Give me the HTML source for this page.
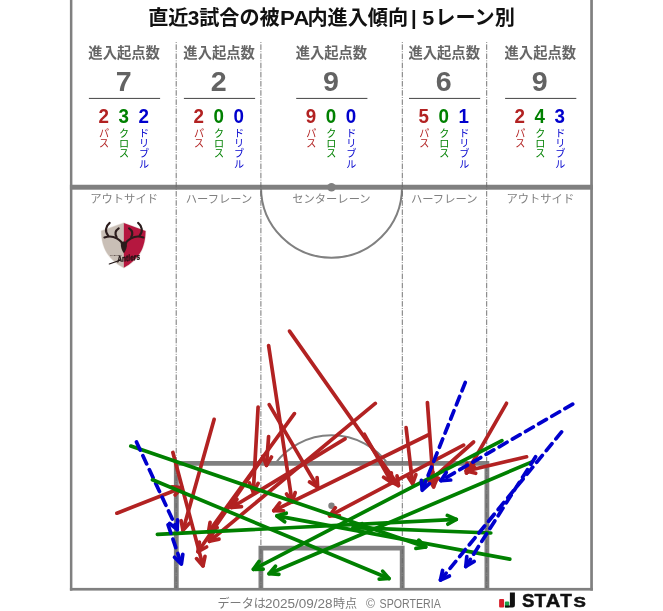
<!DOCTYPE html>
<html lang="ja"><head><meta charset="utf-8"><title>直近3試合の被PA内進入傾向 | 5レーン別</title>
<style>
html,body{margin:0;padding:0;background:#fff}
body{width:663px;height:611px;overflow:hidden;font-family:"Liberation Sans", "Noto Sans CJK JP", sans-serif}
svg{display:block}
text{font-family:"Liberation Sans", "Noto Sans CJK JP", sans-serif}
.title{font-size:20.15px;font-weight:700;fill:#111;text-anchor:middle}
.hd{font-size:14.3px;font-weight:700;fill:#666;text-anchor:middle}
.tot{font-size:27px;font-weight:700;fill:#636363;text-anchor:middle}
.num{font-size:17.9px;font-weight:700;text-anchor:middle}
.vl{font-size:10.1px;text-anchor:middle}
.lane{font-size:11.3px;fill:#808080;text-anchor:middle}
.foot{font-size:12.1px;fill:#7a7a7a}
.stats{font-size:19px;font-weight:700;fill:#111}
</style></head><body>
<svg width="663" height="611" viewBox="0 0 663 611">
<rect width="663" height="611" fill="#fff"/>
<!-- pitch -->
<g fill="#808080">
<rect x="69.9" y="0" width="2.5" height="590.6"/>
<rect x="590.2" y="0" width="2.7" height="590.6"/>
<rect x="69.9" y="587.9" width="523" height="2.7"/>
<rect x="69.9" y="184.75" width="523" height="4.95"/>
<circle cx="331.5" cy="187.2" r="4.3"/>
<circle cx="331.5" cy="505.8" r="3.2"/>
</g>
<g fill="none" stroke="#808080">
<path d="M176.3 590V463.4H486.9V590" stroke-width="4.8"/>
<path d="M260.9 590V548.2H402.2V590" stroke-width="4.8"/>
<path d="M261 187.2A70.5 70.5 0 0 0 402 187.2" stroke-width="2"/>
<path d="M275.2 463.5A70.4 70.4 0 0 1 387.8 463.5" stroke-width="2"/>
</g>
<g stroke="#666" stroke-width="0.9" stroke-dasharray="5.54 1.38 0.87 1.38" stroke-dashoffset="6.92" fill="none">
<path d="M176.2 42.1V588"/><path d="M260.9 42.1V588"/><path d="M402.3 42.1V588"/><path d="M486.7 42.1V588"/>
</g>
<text y="25.3" class="title" style="text-anchor:start"><tspan x="148.2">直近</tspan><tspan x="187.8" textLength="11.6" lengthAdjust="spacingAndGlyphs">3</tspan><tspan x="199.2">試合の被</tspan><tspan x="280.1" textLength="29.3" lengthAdjust="spacingAndGlyphs">PA</tspan><tspan x="307.4">内進入傾向</tspan><tspan x="406"> </tspan><tspan x="411.1">|</tspan><tspan x="417.5"> </tspan><tspan x="422.2" textLength="12" lengthAdjust="spacingAndGlyphs">5</tspan><tspan x="435.3">レーン別</tspan></text>
<text x="124.1" y="57.6" class="hd">進入起点数</text>
<text transform="translate(123.6 90.8) scale(1.06 1.02)" class="tot">7</text>
<rect x="88.9" y="97.9" width="71.2" height="1.1" fill="#555"/>
<text transform="translate(103.6 122.9) scale(1.05 1.08)" class="num" fill="#b22222">2</text>
<text class="vl" fill="#b22222"><tspan x="104.1" y="136.90">パ</tspan><tspan x="104.1" y="147.10">ス</tspan></text>
<text transform="translate(123.6 122.9) scale(1.05 1.08)" class="num" fill="#008000">3</text>
<text class="vl" fill="#008000"><tspan x="124.1" y="136.90">ク</tspan><tspan x="124.1" y="147.10">ロ</tspan><tspan x="124.1" y="157.30">ス</tspan></text>
<text transform="translate(143.6 122.9) scale(1.05 1.08)" class="num" fill="#0000cd">2</text>
<text class="vl" fill="#0000cd"><tspan x="144.1" y="136.90">ド</tspan><tspan x="144.1" y="147.10">リ</tspan><tspan x="144.1" y="157.30">ブ</tspan><tspan x="144.1" y="167.50">ル</tspan></text>
<text x="124.1" y="202.6" class="lane">アウトサイド</text>
<text x="219.1" y="57.6" class="hd">進入起点数</text>
<text transform="translate(218.6 90.8) scale(1.06 1.02)" class="tot">2</text>
<rect x="183.9" y="97.9" width="71.2" height="1.1" fill="#555"/>
<text transform="translate(198.6 122.9) scale(1.05 1.08)" class="num" fill="#b22222">2</text>
<text class="vl" fill="#b22222"><tspan x="199.1" y="136.90">パ</tspan><tspan x="199.1" y="147.10">ス</tspan></text>
<text transform="translate(218.6 122.9) scale(1.05 1.08)" class="num" fill="#008000">0</text>
<text class="vl" fill="#008000"><tspan x="219.1" y="136.90">ク</tspan><tspan x="219.1" y="147.10">ロ</tspan><tspan x="219.1" y="157.30">ス</tspan></text>
<text transform="translate(238.6 122.9) scale(1.05 1.08)" class="num" fill="#0000cd">0</text>
<text class="vl" fill="#0000cd"><tspan x="239.1" y="136.90">ド</tspan><tspan x="239.1" y="147.10">リ</tspan><tspan x="239.1" y="157.30">ブ</tspan><tspan x="239.1" y="167.50">ル</tspan></text>
<text x="219.1" y="202.6" class="lane">ハーフレーン</text>
<text x="331.4" y="57.6" class="hd">進入起点数</text>
<text transform="translate(330.9 90.8) scale(1.06 1.02)" class="tot">9</text>
<rect x="296.2" y="97.9" width="71.2" height="1.1" fill="#555"/>
<text transform="translate(310.9 122.9) scale(1.05 1.08)" class="num" fill="#b22222">9</text>
<text class="vl" fill="#b22222"><tspan x="311.4" y="136.90">パ</tspan><tspan x="311.4" y="147.10">ス</tspan></text>
<text transform="translate(330.9 122.9) scale(1.05 1.08)" class="num" fill="#008000">0</text>
<text class="vl" fill="#008000"><tspan x="331.4" y="136.90">ク</tspan><tspan x="331.4" y="147.10">ロ</tspan><tspan x="331.4" y="157.30">ス</tspan></text>
<text transform="translate(350.9 122.9) scale(1.05 1.08)" class="num" fill="#0000cd">0</text>
<text class="vl" fill="#0000cd"><tspan x="351.4" y="136.90">ド</tspan><tspan x="351.4" y="147.10">リ</tspan><tspan x="351.4" y="157.30">ブ</tspan><tspan x="351.4" y="167.50">ル</tspan></text>
<text x="331.4" y="202.6" class="lane">センターレーン</text>
<text x="444.2" y="57.6" class="hd">進入起点数</text>
<text transform="translate(443.7 90.8) scale(1.06 1.02)" class="tot">6</text>
<rect x="409.0" y="97.9" width="71.2" height="1.1" fill="#555"/>
<text transform="translate(423.7 122.9) scale(1.05 1.08)" class="num" fill="#b22222">5</text>
<text class="vl" fill="#b22222"><tspan x="424.2" y="136.90">パ</tspan><tspan x="424.2" y="147.10">ス</tspan></text>
<text transform="translate(443.7 122.9) scale(1.05 1.08)" class="num" fill="#008000">0</text>
<text class="vl" fill="#008000"><tspan x="444.2" y="136.90">ク</tspan><tspan x="444.2" y="147.10">ロ</tspan><tspan x="444.2" y="157.30">ス</tspan></text>
<text transform="translate(463.7 122.9) scale(1.05 1.08)" class="num" fill="#0000cd">1</text>
<text class="vl" fill="#0000cd"><tspan x="464.2" y="136.90">ド</tspan><tspan x="464.2" y="147.10">リ</tspan><tspan x="464.2" y="157.30">ブ</tspan><tspan x="464.2" y="167.50">ル</tspan></text>
<text x="444.2" y="202.6" class="lane">ハーフレーン</text>
<text x="540.3" y="57.6" class="hd">進入起点数</text>
<text transform="translate(539.8 90.8) scale(1.06 1.02)" class="tot">9</text>
<rect x="505.1" y="97.9" width="71.2" height="1.1" fill="#555"/>
<text transform="translate(519.8 122.9) scale(1.05 1.08)" class="num" fill="#b22222">2</text>
<text class="vl" fill="#b22222"><tspan x="520.3" y="136.90">パ</tspan><tspan x="520.3" y="147.10">ス</tspan></text>
<text transform="translate(539.8 122.9) scale(1.05 1.08)" class="num" fill="#008000">4</text>
<text class="vl" fill="#008000"><tspan x="540.3" y="136.90">ク</tspan><tspan x="540.3" y="147.10">ロ</tspan><tspan x="540.3" y="157.30">ス</tspan></text>
<text transform="translate(559.8 122.9) scale(1.05 1.08)" class="num" fill="#0000cd">3</text>
<text class="vl" fill="#0000cd"><tspan x="560.3" y="136.90">ド</tspan><tspan x="560.3" y="147.10">リ</tspan><tspan x="560.3" y="157.30">ブ</tspan><tspan x="560.3" y="167.50">ル</tspan></text>
<text x="540.3" y="202.6" class="lane">アウトサイド</text>
<!-- logo placeholder -->
<g id="emblem">
<path d="M123.8 222.3L100.7 230.5C101 246.3 106 259 123.8 268.5C141.6 259 146 246.3 146.3 230.5Z" fill="#ebe6e1"/>
<path d="M123.8 222.9L101.3 230.9C101.6 246 106.5 258.5 123.8 267.8Z" fill="#c9bfb6"/>
<path d="M123.8 222.9L145.6 230.9C145.3 246 140.5 258.5 123.8 267.8Z" fill="#b5173f"/>
<g fill="none" stroke="#2b1c1c" stroke-linecap="round" stroke-linejoin="round" stroke-width="2.1">
<path d="M122.6 243.4C119.5 239.5 114 234.2 104.4 237.4"/>
<path d="M108.2 235.6C104.6 231.5 105.6 226.2 109.7 222.9"/>
<path d="M116.6 237.0C114.6 233.6 115.6 230.4 118.7 228.3"/>
<path d="M125.2 243.4C128.3 239.5 133.8 234.2 143.4 237.4"/>
<path d="M139.6 235.6C143.2 231.5 142.2 226.2 138.1 222.9"/>
<path d="M131.2 237.0C133.2 233.6 132.2 230.4 129.1 228.3"/>
</g>
<path d="M120.9 243.2C122.2 241 125.6 241 126.9 243.2C127.4 247 125.8 251 123.9 253.2C122 251 120.4 247 120.9 243.2Z" fill="#2b1c1c"/>
<text x="110.3" y="255.6" style="font-size:2.2px;font-weight:700;fill:#2b1c1c;letter-spacing:0.2px">KASHIMA</text>
<text x="117.5" y="262.3" transform="rotate(-7 117.5 262.3)" style="font-size:8.8px;font-weight:700;font-style:italic;fill:#1d1212;stroke:#1d1212;stroke-width:0.3px" textLength="23" lengthAdjust="spacingAndGlyphs">Antlers</text>
<path d="M109.3 264L120 260.2" stroke="#1d1212" stroke-width="1.2" stroke-linecap="round"/>
</g>
<g fill="none" stroke-width="3.7" stroke-linecap="round" stroke-linejoin="round">
<path d="M116.9 513.2L181.7 487.7" stroke="#b22222"/><path d="M171.9 486.8L181.7 487.7L175.1 495.0" stroke="#b22222"/>
<path d="M172.9 452.5L203.0 565.9" stroke="#b22222"/><path d="M205.0 556.3L203.0 565.9L196.5 558.6" stroke="#b22222"/>
<path d="M214.1 419.4L183.0 530.3" stroke="#b22222"/><path d="M189.6 523.1L183.0 530.3L181.1 520.7" stroke="#b22222"/>
<path d="M258.1 407.0L253.3 491.9" stroke="#b22222"/><path d="M258.1 483.4L253.3 491.9L249.4 482.9" stroke="#b22222"/>
<path d="M268.6 345.5L292.1 501.9" stroke="#b22222"/><path d="M295.2 492.6L292.1 501.9L286.5 493.9" stroke="#b22222"/>
<path d="M289.5 331.1L398.5 485.6" stroke="#b22222"/><path d="M397.0 475.9L398.5 485.6L389.8 481.0" stroke="#b22222"/>
<path d="M269.2 404.6L317.7 487.3" stroke="#b22222"/><path d="M317.1 477.5L317.7 487.3L309.5 481.9" stroke="#b22222"/>
<path d="M294.4 413.6L208.5 532.1" stroke="#b22222"/><path d="M217.2 527.6L208.5 532.1L210.1 522.4" stroke="#b22222"/>
<path d="M263.1 457.2L198.0 551.7" stroke="#b22222"/><path d="M206.6 547.0L198.0 551.7L199.4 542.0" stroke="#b22222"/>
<path d="M268.6 436.6L266.5 465.4" stroke="#b22222"/><path d="M271.5 457.0L266.5 465.4L262.7 456.3" stroke="#b22222"/>
<path d="M375.3 403.4L209.4 541.3" stroke="#b22222"/><path d="M219.0 539.1L209.4 541.3L213.4 532.3" stroke="#b22222"/>
<path d="M364.4 434.3L391.8 482.6" stroke="#b22222"/><path d="M391.3 472.9L391.8 482.6L383.6 477.2" stroke="#b22222"/>
<path d="M345.0 438.8L231.7 507.5" stroke="#b22222"/><path d="M241.5 506.7L231.7 507.5L237.0 499.2" stroke="#b22222"/>
<path d="M427.4 402.5L433.6 486.8" stroke="#b22222"/><path d="M437.4 477.7L433.6 486.8L428.6 478.4" stroke="#b22222"/>
<path d="M406.1 427.6L412.6 483.8" stroke="#b22222"/><path d="M415.9 474.6L412.6 483.8L407.2 475.6" stroke="#b22222"/>
<path d="M428.1 435.0L273.8 510.7" stroke="#b22222"/><path d="M283.6 510.8L273.8 510.7L279.7 502.9" stroke="#b22222"/>
<path d="M463.6 445.1L329.6 515.8" stroke="#b22222"/><path d="M339.4 515.6L329.6 515.8L335.3 507.8" stroke="#b22222"/>
<path d="M473.6 442.0L429.3 481.3" stroke="#b22222"/><path d="M438.8 478.7L429.3 481.3L433.0 472.2" stroke="#b22222"/>
<path d="M506.5 403.3L466.5 473.0" stroke="#b22222"/><path d="M474.7 467.6L466.5 473.0L467.1 463.3" stroke="#b22222"/>
<path d="M526.6 456.8L466.2 471.0" stroke="#b22222"/><path d="M475.7 473.3L466.2 471.0L473.7 464.8" stroke="#b22222"/>
<path d="M130.8 446.1L425.7 547.0" stroke="#008000"/><path d="M418.8 540.1L425.7 547.0L415.9 548.4" stroke="#008000"/>
<path d="M157.4 534.3L456.3 519.4" stroke="#008000"/><path d="M447.3 515.4L456.3 519.4L447.8 524.2" stroke="#008000"/>
<path d="M501.9 440.6L253.4 569.3" stroke="#008000"/><path d="M263.2 569.2L253.4 569.3L259.1 561.4" stroke="#008000"/>
<path d="M532.6 461.6L269.1 573.7" stroke="#008000"/><path d="M278.9 574.3L269.1 573.7L275.5 566.2" stroke="#008000"/>
<path d="M490.8 533.0L353.1 527.6" stroke="#008000"/><path d="M361.7 532.4L353.1 527.6L362.0 523.6" stroke="#008000"/>
<path d="M509.8 559.1L276.9 515.9" stroke="#008000"/><path d="M284.7 521.8L276.9 515.9L286.3 513.2" stroke="#008000"/>
<path d="M136.5 442.0L177.2 529.6" stroke="#0000cd" stroke-dasharray="9.0 6.2"/><path d="M177.5 519.8L177.2 529.6L169.6 523.5" stroke="#0000cd"/>
<path d="M168.0 524.7L181.4 564.1" stroke="#0000cd" stroke-dasharray="9.0 6.2"/><path d="M182.8 554.3L181.4 564.1L174.5 557.2" stroke="#0000cd"/>
<path d="M465.3 382.4L422.2 490.2" stroke="#0000cd" stroke-dasharray="9.0 6.2"/><path d="M429.5 483.7L422.2 490.2L421.4 480.4" stroke="#0000cd"/>
<path d="M572.7 404.1L441.0 480.6" stroke="#0000cd" stroke-dasharray="9.0 6.2"/><path d="M450.7 480.0L441.0 480.6L446.3 472.4" stroke="#0000cd"/>
<path d="M561.6 431.9L440.5 580.0" stroke="#0000cd" stroke-dasharray="9.0 6.2"/><path d="M449.4 576.0L440.5 580.0L442.6 570.5" stroke="#0000cd"/>
<path d="M535.6 456.8L465.8 566.5" stroke="#0000cd" stroke-dasharray="9.0 6.2"/><path d="M474.2 561.4L465.8 566.5L466.8 556.7" stroke="#0000cd"/>
<path d="M152.5 479.8L389.0 578.5" stroke="#008000"/><path d="M382.6 571.1L389.0 578.5L379.2 579.2" stroke="#008000"/>
</g>
<text y="608.3" class="foot"><tspan x="217.5">データは</tspan><tspan x="265" textLength="67.6" lengthAdjust="spacingAndGlyphs">2025/09/28</tspan><tspan x="332.9">時点</tspan><tspan x="354.6">　</tspan><tspan x="366">©</tspan><tspan x="375.2"> </tspan><tspan x="379.6" textLength="61.2" lengthAdjust="spacingAndGlyphs">SPORTERIA</tspan></text>
<g>
<rect x="499.1" y="599.1" width="5" height="8.3" rx="1" fill="#d7202c"/>
<rect x="504.9" y="601.6" width="4.3" height="5.8" rx="1" fill="#1aa34a"/>
<path d="M509.9 592.5h5v12.4q0 2.5-2.5 2.5h-7.5v-2h5z" fill="#111"/>
<text y="606.9" class="stats" stroke="#111" stroke-width="0.5"><tspan x="522" textLength="12.4" lengthAdjust="spacingAndGlyphs">S</tspan><tspan x="534.5" textLength="11.6" lengthAdjust="spacingAndGlyphs">T</tspan><tspan x="545.7" textLength="14.6" lengthAdjust="spacingAndGlyphs">A</tspan><tspan x="560.2" textLength="11.6" lengthAdjust="spacingAndGlyphs">T</tspan><tspan x="573.4" style="font-size:14.4px" textLength="12.4" lengthAdjust="spacingAndGlyphs">S</tspan></text>
</g>
</svg>
</body></html>
